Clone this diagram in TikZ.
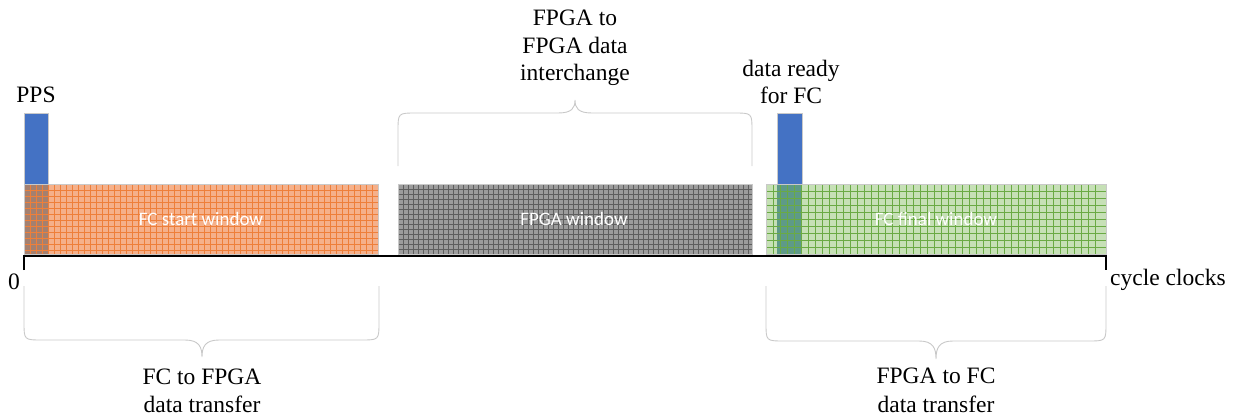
\documentclass[tikz,border=0pt]{standalone}
\usepackage{fontspec}
\setmainfont{Liberation Serif}
\newfontfamily\winfont{Carlito}

\definecolor{ppsBlue}{HTML}{4472C4}
\definecolor{edgeGray}{HTML}{C9C9C9}
\definecolor{braceGray}{HTML}{C8C8C8}
\definecolor{orangeFill}{HTML}{F5B08A}
\definecolor{orangeLine}{HTML}{EE7F3A}
\definecolor{orangeMix}{HTML}{A48070}
\definecolor{grayFill}{HTML}{9C9C9C}
\definecolor{grayLine}{HTML}{5E5E5E}
\definecolor{greenFill}{HTML}{C6E0B6}
\definecolor{greenLine}{HTML}{6AAA44}
\definecolor{greenMix}{HTML}{5E9A88}

\begin{document}
\begin{tikzpicture}[x=1pt,y=-1pt,
  lbl/.style={font=\fontsize{23.5}{28}\selectfont, inner sep=0pt, anchor=base},
  winlbl/.style={font=\winfont\fontsize{19}{22}\selectfont, text=white, inner sep=0pt, anchor=base},
  brace/.style={draw=braceGray, line width=0.9pt},
  boxedge/.style={draw=edgeGray, line width=0.8pt},
  pulse/.style={fill=ppsBlue, draw=edgeGray, line width=0.8pt},
  axis/.style={draw=black, line width=1.8pt}]

\useasboundingbox (0,0) rectangle (1238,418);

% ---------- FC start window (orange, fine grid) ----------
\fill[orangeFill] (24,184) rectangle (378,254);
\fill[orangeMix] (24,184) rectangle (48,254);
\draw[orangeLine, line width=0.7pt]
  foreach \gx in {30,36,...,372} {(\gx,184) -- (\gx,254)}
  foreach \gy in {190,196,...,250} {(24,\gy) -- (378,\gy)};
\draw[boxedge] (24,184) rectangle (378,254);

% ---------- FPGA window (gray, dense grid) ----------
\fill[grayFill] (398,184) rectangle (752,254);
\draw[grayLine, line width=0.8pt]
  foreach \gx in {403,408,...,748} {(\gx,184) -- (\gx,254)}
  foreach \gy in {189,194,...,250} {(398,\gy) -- (752,\gy)};
\draw[boxedge] (398,184) rectangle (752,254);

% ---------- FC final window (green grid) ----------
\fill[greenFill] (766,184) rectangle (1106,254);
\fill[greenMix] (777,184) rectangle (802,254);
\draw[greenLine, line width=0.9pt]
  foreach \gx in {773,780,...,1100} {(\gx,184) -- (\gx,254)}
  foreach \gy in {191,198,...,248} {(766,\gy) -- (1106,\gy)};
\draw[boxedge] (766,184) rectangle (1106,254);

% ---------- pulses ----------
\path[pulse] (24,113) rectangle (48,184);
\path[pulse] (777,113) rectangle (802,184);

% ---------- window labels ----------
\node[winlbl] (wstart) at (201,225) {FC start window};
\node[winlbl] (wfpga)  at (574,225) {FPGA window};
\node[winlbl] (wfinal) at (936,225) {FC final window};

% ---------- time axis ----------
\coordinate (t0) at (24,256);
\coordinate (t1) at (1106,256);
\draw[axis] (24,270) -- (t0) -- (t1) -- (1106,270);
\node[lbl] (zero) at (14,289) {0};
\node[lbl, anchor=base west] (cyc) at (1110,285) {cycle clocks};

% ---------- top labels ----------
\node[lbl] (pps) at (36,102) {PPS};
\node[lbl] (rdy1) at (791,76) {data ready};
\node[lbl] (rdy2) at (791,103) {for FC};
\node[lbl] (xch1) at (575,25) {FPGA to};
\node[lbl] (xch2) at (575,53) {FPGA data};
\node[lbl] (xch3) at (575,80) {interchange};

% ---------- braces ----------
\draw[brace] (398,166) -- (398,131) .. controls (398,113) .. (416,113)
  -- (558,113) .. controls (572,113) and (575,108) .. (575,100)
  .. controls (575,108) and (578,113) .. (592,113)
  -- (734,113) .. controls (752,113) .. (752,131) -- (752,166);

\draw[brace] (24,286) -- (24,322) .. controls (24,340) .. (42,340)
  -- (185,340) .. controls (199,340) and (202,347) .. (202,357)
  .. controls (202,347) and (205,340) .. (219,340)
  -- (361,340) .. controls (379,340) .. (379,322) -- (379,286);

\draw[brace] (766,286) -- (766,323) .. controls (766,341) .. (784,341)
  -- (919,341) .. controls (933,341) and (936,348) .. (936,359)
  .. controls (936,348) and (939,341) .. (953,341)
  -- (1088,341) .. controls (1106,341) .. (1106,323) -- (1106,286);

% ---------- bottom labels ----------
\node[lbl] (up1) at (202,384) {FC to FPGA};
\node[lbl] (up2) at (202,412) {data transfer};
\node[lbl] (dn1) at (936,383) {FPGA to FC};
\node[lbl] (dn2) at (936,412) {data transfer};

\end{tikzpicture}
\end{document}
